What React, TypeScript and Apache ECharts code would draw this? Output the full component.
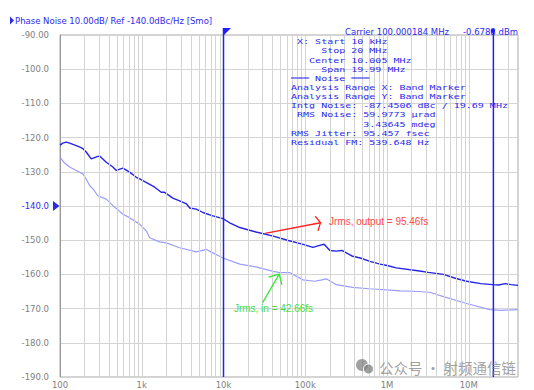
import React, { useEffect, useRef } from 'react';
import * as echarts from 'echarts';

// ---- data ----
const darkFreq = [100, 108, 119, 131, 144, 173, 190, 209, 241, 290, 305, 368, 443, 488, 588, 710, 858, 940, 1190, 1440, 1730, 1900, 2400, 2900, 3530, 3860, 4650, 5600, 7400, 9850, 11900, 15800, 25000, 40600, 62000, 94000, 124000, 150000, 170000, 200000, 240000, 280000, 380000, 470000, 620000, 820000, 1000000, 1300000, 2500000, 3200000, 4900000, 7000000, 9400000, 14000000, 19700000, 23000000, 28000000, 33000000, 40000000];
const darkDb = [-122.2, -121.6, -121.3, -121.6, -122.0, -122.7, -123.2, -124.2, -126.2, -125.5, -125.4, -127.2, -128.6, -129.6, -128.9, -130.1, -131.6, -132.1, -133.4, -134.5, -136.0, -136.0, -137.7, -138.5, -139.4, -140.6, -140.9, -141.9, -142.9, -143.7, -144.9, -146.3, -147.6, -148.8, -150.1, -151.2, -152.1, -151.5, -151.2, -153.0, -153.2, -153.0, -154.7, -155.2, -156.2, -157.0, -157.4, -158.1, -159.0, -159.4, -160.0, -161.2, -162.0, -162.7, -163.0, -163.1, -162.7, -163.0, -163.2];

const lightFreq = [100, 111, 131, 158, 190, 209, 230, 253, 290, 368, 443, 588, 710, 940, 1140, 1250, 1650, 2000, 2900, 4650, 6200, 7400, 9850, 15800, 25000, 40600, 49000, 65000, 94000, 130000, 160000, 180000, 240000, 380000, 600000, 1000000, 1450000, 2500000, 3400000, 4900000, 9400000, 18000000, 25000000, 40000000];
const lightDb = [-125.7, -127.2, -128.6, -129.6, -130.6, -132.1, -134.0, -135.0, -137.0, -138.0, -139.9, -142.4, -143.4, -145.3, -147.3, -149.3, -150.5, -150.8, -152.2, -153.4, -152.7, -153.7, -155.2, -157.0, -157.8, -159.1, -159.5, -159.5, -161.6, -162.0, -161.6, -161.3, -163.0, -163.8, -164.2, -164.5, -164.8, -165.0, -165.3, -166.5, -168.5, -170.3, -170.5, -170.3];

const xTickValues = [100, 1e3, 1e4, 1e5, 1e6, 1e7];
const xTickLabels = ['100', '1k', '10k', '100k', '1M', '10M'];
const gridMultipliers = [2, 3, 4, 5, 6, 7, 8, 9, 10];
const gridDecades = [100, 1e3, 1e4, 1e5, 1e6, 1e7];
const markerFreqs = [1e4, 2e7];
const refLevel = -140;

const titleText = 'Phase Noise 10.00dB/ Ref -140.0dBc/Hz [Smo]';
const carrierText = 'Carrier 100.000184 MHz';
const levelText = '-0.6788 dBm';
const infoLines = [
  ' X: Start 10 kHz',
  '     Stop 20 MHz',
  '   Center 10.005 MHz',
  '     Span 19.99 MHz',
  '═══ Noise ═══',
  'Analysis Range X: Band Marker',
  'Analysis Range Y: Band Marker',
  'Intg Noise: -87.4506 dBc / 19.69 MHz',
  ' RMS Noise: 59.9773 µrad',
  '            3.43645 mdeg',
  'RMS Jitter: 95.457 fsec',
  'Residual FM: 539.648 Hz',
];
const redLabel = 'Jrms, output = 95.46fs';
const greenLabel = 'Jrms, in = 42.66fs';
// arrow anchors in data coordinates [freq, dB]
const redArrow = { from: [32100, -148.0], to: [153500, -144.9], label: [195000, -144.6] };
const greenArrow = { from: [30000, -168.3], to: [48000, -159.9], label: [13400, -170.0] };

const BLUE = '#2b2bef';
const GRAY = '#808080';
const FONT = 'DejaVu Sans';
const MONO = 'DejaVu Sans Mono';

export default function App() {
  const ref = useRef<HTMLDivElement>(null);
  useEffect(() => {
    if (!ref.current) return;
    const chart = echarts.init(ref.current, undefined, { renderer: 'svg' });
    const gridFreqs: number[] = [];
    gridDecades.forEach((d) => gridMultipliers.forEach((m) => { if (d * m <= 4e7) gridFreqs.push(d * m); }));

    chart.setOption({
      animation: false,
      grid: { left: 60, right: 16, top: 35, bottom: 13, show: true, borderColor: '#a8a8a8', borderWidth: 1, backgroundColor: '#fff' },
      xAxis: {
        type: 'log', logBase: 10, min: 100, max: 4e7,
        axisLine: { show: false }, axisTick: { show: false }, splitLine: { show: false },
        axisLabel: {
          margin: 3, fontSize: 8.5, color: GRAY, fontFamily: FONT,
          formatter: (v: number) => {
            const i = xTickValues.findIndex((t) => Math.abs(Math.log10(t) - Math.log10(v)) < 1e-6);
            return i >= 0 ? xTickLabels[i] : '';
          },
        },
      },
      yAxis: {
        type: 'value', min: -190, max: -90, interval: 10,
        axisLine: { show: true, lineStyle: { color: '#9a9a9a' } }, axisTick: { show: false },
        splitLine: { show: true, lineStyle: { color: '#d4d4d4' } },
        axisLabel: {
          margin: 11, fontSize: 8.5, color: GRAY, fontFamily: FONT,
          formatter: (v: number) => (v === -90 ? '-90.00' : v === refLevel ? '{b|' + v.toFixed(1) + '}' : v.toFixed(1)),
          rich: { b: { color: BLUE, fontSize: 8.5, fontFamily: FONT } },
        },
      },
      series: [
        {
          type: 'line', data: [], z: 1, silent: true,
          markLine: {
            silent: true, symbol: ['none', 'none'], label: { show: false },
            lineStyle: { color: '#d4d4d4', width: 1, type: 'solid' },
            data: gridFreqs.map((f) => ({ xAxis: f })),
          },
        },
        {
          type: 'line', z: 3, showSymbol: false, symbol: 'none',
          lineStyle: { color: '#9c9cff', width: 1.2 },
          data: lightFreq.map((f, i) => [f, lightDb[i]]),
        },
        {
          type: 'line', z: 4, showSymbol: false, symbol: 'none',
          lineStyle: { color: '#2424e4', width: 1.4 },
          data: darkFreq.map((f, i) => [f, darkDb[i]]),
        },
      ],
    });

    const px = (f: number, v: number) => chart.convertToPixel({ xAxisIndex: 0, yAxisIndex: 0 }, [f, v]) as number[];
    const plotBottom = px(100, -190)[1];
    const g: any[] = [];

    // title
    g.push({ type: 'polygon', shape: { points: [[10, 16.5], [14, 20.5], [10, 24.5]] }, style: { fill: BLUE } });
    g.push({ type: 'text', x: 15, y: 20.7, style: { text: titleText, fill: BLUE, fontSize: 8.5, fontFamily: FONT, align: 'left', verticalAlign: 'middle' } });
    g.push({ type: 'text', x: 345, y: 31.5, style: { text: carrierText, fill: BLUE, fontSize: 8.5, lineHeight: 9, fontFamily: FONT, align: 'left', verticalAlign: 'middle' } });
    g.push({ type: 'text', x: 518, y: 31.5, style: { text: levelText, fill: BLUE, fontSize: 8.5, lineHeight: 9, fontFamily: FONT, align: 'right', verticalAlign: 'middle' } });

    // markers
    const m1 = px(markerFreqs[0], -90)[0];
    const m2 = px(markerFreqs[1], -90)[0];
    g.push({ type: 'line', z: 10, shape: { x1: m1, y1: 28, x2: m1, y2: plotBottom }, style: { stroke: '#1f1fff', lineWidth: 1.5 } });
    g.push({ type: 'polygon', z: 10, shape: { points: [[m1, 28], [m1 + 7.5, 28], [m1, 35.5]] }, style: { fill: '#1f1fff' } });
    g.push({ type: 'line', z: 10, shape: { x1: m2, y1: 31, x2: m2, y2: plotBottom }, style: { stroke: '#1f1fff', lineWidth: 1.5 } });
    g.push({ type: 'circle', z: 10, shape: { cx: m2 - 0.5, cy: 31, r: 2.2 }, style: { fill: '#1f1fff' } });
    const ry = px(100, refLevel)[1];
    g.push({ type: 'polygon', shape: { points: [[53, ry - 5], [59.5, ry], [53, ry + 5]] }, style: { fill: BLUE } });

    // info block (one multi-line text, widened to the reference's character pitch)
    g.push({
      type: 'text', z: 8, x: 291, y: 37.1, scaleX: 1.285,
      style: { text: infoLines.join('\n'), fill: BLUE, fontSize: 7.8, lineHeight: 9.15, fontFamily: MONO, align: 'left', verticalAlign: 'top' },
    });

    // arrows
    const arrow = (a: any, color: string, textColor: string, label: string, theta: number, len: number) => {
      const s = px(a.from[0], a.from[1]);
      const t = px(a.to[0], a.to[1]);
      const dx = t[0] - s[0], dy = t[1] - s[1];
      const d = Math.hypot(dx, dy);
      const bx = -dx / d, by = -dy / d;
      const rot = (ang: number) => [t[0] + len * (bx * Math.cos(ang) - by * Math.sin(ang)), t[1] + len * (bx * Math.sin(ang) + by * Math.cos(ang))];
      const th = (theta * Math.PI) / 180;
      g.push({ type: 'line', z: 9, shape: { x1: s[0], y1: s[1], x2: t[0], y2: t[1] }, style: { stroke: color, lineWidth: 1.3 } });
      g.push({ type: 'polyline', z: 9, shape: { points: [rot(th), t, rot(-th)] }, style: { stroke: color, lineWidth: 1.3, fill: null } });
      const lp = px(a.label[0], a.label[1]);
      g.push({ type: 'text', z: 9, x: lp[0], y: lp[1], style: { text: label, fill: textColor, fontSize: 10, fontFamily: 'Liberation Sans', align: 'left', verticalAlign: 'middle' } });
    };
    arrow(redArrow, '#ff2020', '#ff4a4a', redLabel, 62, 8.5);
    arrow(greenArrow, '#33e833', '#44dd44', greenLabel, 44, 11);

    // watermark
    g.push({ type: 'circle', z: 11, shape: { cx: 362, cy: 365, r: 6 }, style: { fill: 'rgba(120,120,120,0.7)' } });
    g.push({ type: 'circle', z: 11, shape: { cx: 368.5, cy: 369, r: 5 }, style: { fill: 'rgba(120,120,120,0.7)', stroke: '#fff', lineWidth: 1 } });
    g.push({ type: 'text', z: 11, x: 379, y: 367, style: { text: '公众号 · 射频通信链', fill: 'rgba(130,130,130,0.75)', fontSize: 14.5, fontFamily: 'Noto Sans CJK SC', align: 'left', verticalAlign: 'middle' } });

    chart.setOption({ graphic: g });
    return () => chart.dispose();
  }, []);
  return <div ref={ref} style={{ position: 'absolute', left: 0, top: 0, width: 534, height: 390 }} />;
}
